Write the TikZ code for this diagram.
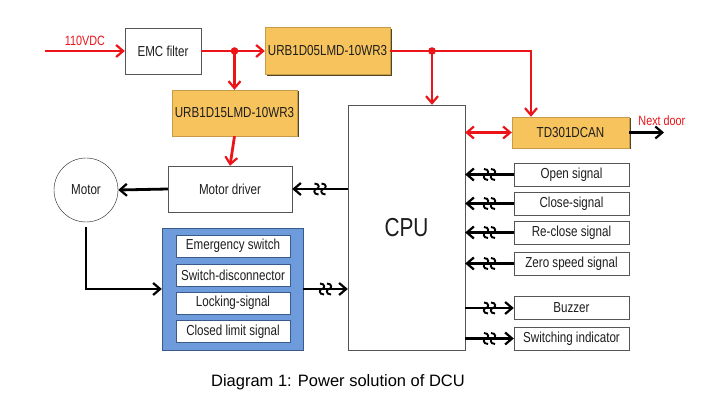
\documentclass[tikz,border=0pt]{standalone}
\usepackage{fontspec}
\setmainfont{Liberation Sans}
\newfontfamily\narrowfont[FakeStretch=0.8]{Liberation Sans}
\usetikzlibrary{arrows.meta, calc, positioning, shadows}
\definecolor{DCURed}{RGB}{235,20,25}
\definecolor{DCUOrange}{RGB}{247,195,92}
\definecolor{DCUBlue}{RGB}{110,155,219}
\definecolor{DCUBlue2}{RGB}{58,90,138}
\definecolor{DCUGray}{RGB}{85,85,85}
\definecolor{DCUText}{RGB}{30,30,30}

\begin{document}
\begin{tikzpicture}[x = 1pt, y = -1pt]%
    %
    \useasboundingbox (0, 0) rectangle (701, 406);%
    %
    \tikzstyle{tip} = [-{Straight Barb[length = 7pt, width = 12pt, line width = 2.2pt]}]%
    \tikzstyle{power} = [tip, line width = 2.8pt, draw = DCURed]%
    \tikzstyle{signal} = [tip, line width = 2.8pt, draw = black]%
    \tikzstyle{box} = [rectangle, draw = DCUGray, fill = white, thin, text = DCUText, font = \narrowfont\fontsize{14.5}{16}\selectfont, inner sep = 0pt]%
    \tikzstyle{psu} = [box, draw = DCUOrange!80!black, fill = DCUOrange, general shadow = {fill = black!65!DCUOrange, shadow xshift = 1.5pt, shadow yshift = -1.5pt}]%
    \tikzstyle{sigbox} = [box, minimum width = 115, minimum height = 23]%
    \tikzstyle{inbox} = [box, draw = DCUBlue2, minimum width = 114, minimum height = 22]%
    \tikzstyle{redlabel} = [text = DCURed, font = \narrowfont\fontsize{13.5}{15}\selectfont]%
    %
    \def\brk(#1){% Syntax (center)
        \begin{scope}[shift = {(#1)}]%
            \foreach \dx in {-3.5, 3.5}{%
                \draw[line width = 1.9pt] (\dx - 2, -5.5) .. controls (\dx + 3.5, -5.5) and (\dx + 3, 0) .. (\dx, 0) .. controls (\dx - 3, 0) and (\dx - 3.5, 5.5) .. (\dx + 2, 5.5);%
            }%
        \end{scope}%
    }%
    %
    % power chain
    \node (emc) [box, minimum width = 76, minimum height = 46] at (163, 51) {EMC filter};%
    \node (urb05) [psu, minimum width = 125, minimum height = 47] at (327.5, 51) {URB1D05LMD-10WR3};%
    \node (urb15) [psu, minimum width = 125, minimum height = 46] at (234.5, 113) {URB1D15LMD-10WR3};%
    \node (cpu) [box, minimum width = 117, minimum height = 245, font = \narrowfont\fontsize{26}{28}\selectfont] at (406.5, 227.5) {CPU};%
    \node (td) [psu, minimum width = 117, minimum height = 31] at (570.5, 132.5) {TD301DCAN};%
    %
    \coordinate (vin) at (45, 51);%
    \coordinate (j1) at (urb15.north |- emc.east);%
    \coordinate (j2) at (432, 51);%
    \coordinate (j3) at (531, 51);%
    \coordinate (nd) at (664, 132.5);%
    %
    \draw[power] (vin) -- (emc.west) node[midway, above = 1pt, redlabel] {110VDC};%
    \draw[power] (emc.east) -- (urb05.west);%
    \draw[power] (j1) -- (urb15.north);%
    \draw[power] (urb05.east) -- (j3) -- (j3 |- td.north);%
    \draw[power] (j2) -- (j2 |- cpu.north);%
    \draw[power, arrows = {Straight Barb[length = 7pt, width = 12pt, line width = 2.2pt]-Straight Barb[length = 7pt, width = 12pt, line width = 2.2pt]}] (cpu.east |- td.west) -- (td.west);%
    \draw[signal] (td.east) -- (nd) node[above left = 2pt and -26pt, redlabel] {Next door};%
    \fill[DCURed] (j1) circle (3.8) (j2) circle (3.8);%
    %
    % motor side
    \node (drv) [box, minimum width = 124, minimum height = 46] at (230, 189) {Motor driver};%
    \node (motor) [box, circle, draw = DCUText, minimum size = 64] at (86, 190) {Motor};%
    \draw[power] (urb15.south) -- (drv.north);%
    \draw[signal] (drv.west) -- (motor.east);%
    \draw[signal] (cpu.west |- drv.east) -- (drv.east);%
    \coordinate (drvbrk) at ($(cpu.west |- drv.east)!.5!(drv.east)$);%
    \brk(drvbrk);%
    %
    \node (door) [box, fill = DCUBlue, draw = DCUBlue2, minimum width = 141, minimum height = 122] at (232.5, 289) {};%
    \node (emg) [inbox] at (233, 246) {Emergency switch};%
    \node (swd) [inbox] at (233, 275) {Switch-disconnector};%
    \node (lock) [inbox] at (233, 303) {Locking-signal};%
    \node (lim) [inbox] at (233, 331.5) {Closed limit signal};%
    \draw[signal, shorten <= 5pt] (motor.south) |- (door.west);%
    \draw[signal] (door.east) -- (cpu.west |- door.east);%
    \coordinate (doorbrk) at ($(door.east)!.5!(cpu.west |- door.east)$);%
    \brk(doorbrk);%
    %
    % door signals
    \foreach \name/\y/\txt in {open/174.5/Open signal, close/203.5/Close-signal, reclose/232.5/Re-close signal, zero/263.5/Zero speed signal}{%
        \node (\name) [sigbox] at (571.5, \y) {\txt};%
        \draw[signal] (\name.west) -- (cpu.east |- \name.west);%
        \coordinate (\name brk) at ($(\name.west)!.5!(cpu.east |- \name.west)$);%
        \brk(\name brk);%
    }%
    \foreach \name/\y/\txt in {buzz/308/Buzzer, ind/338.5/Switching indicator}{%
        \node (\name) [sigbox] at (571.5, \y) {\txt};%
        \draw[signal] (cpu.east |- \name.west) -- (\name.west);%
        \coordinate (\name brk) at ($(\name.west)!.5!(cpu.east |- \name.west)$);%
        \brk(\name brk);%
    }%
    %
    \node (cap) [font = \fontsize{16.5}{19}\selectfont, text = black] at (338, 382) {Diagram 1: Power solution of DCU};%
\end{tikzpicture}
\end{document}
